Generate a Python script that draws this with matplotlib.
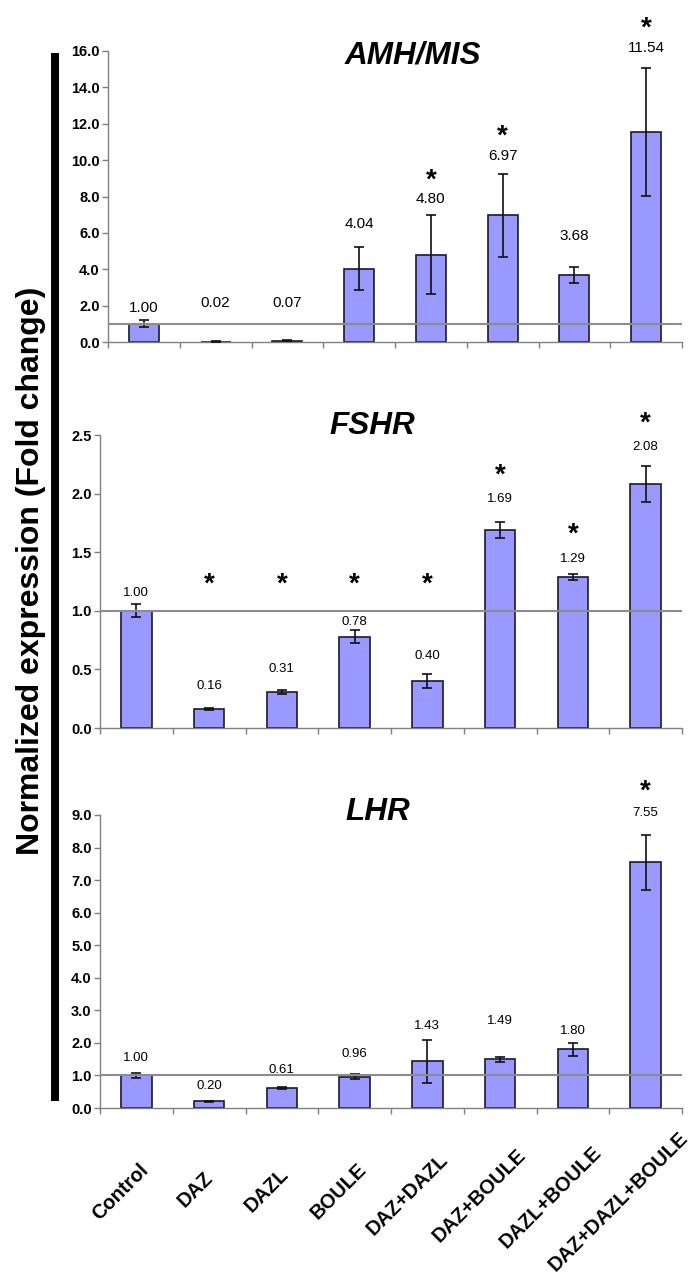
import matplotlib
matplotlib.use("Agg")
import matplotlib.pyplot as plt
from matplotlib.lines import Line2D
import numpy as np

plt.rcParams['font.family'] = ['Liberation Sans', 'DejaVu Sans']

# ---------------- data ----------------
categories = ['Control', 'DAZ', 'DAZL', 'BOULE', 'DAZ+DAZL', 'DAZ+BOULE',
              'DAZL+BOULE', 'DAZ+DAZL+BOULE']

amh_values = [1.00, 0.02, 0.07, 4.04, 4.80, 6.97, 3.68, 11.54]
amh_errors = [0.20, 0.01, 0.02, 1.19, 2.17, 2.29, 0.45, 3.53]
amh_sig = [False, False, False, False, True, True, False, True]

fshr_values = [1.00, 0.16, 0.31, 0.78, 0.40, 1.69, 1.29, 2.08]
fshr_errors = [0.055, 0.01, 0.017, 0.058, 0.06, 0.065, 0.025, 0.155]
fshr_sig = [False, True, True, True, True, True, True, True]

lhr_values = [1.00, 0.20, 0.61, 0.96, 1.43, 1.49, 1.80, 7.55]
lhr_errors = [0.07, 0.01, 0.04, 0.08, 0.66, 0.07, 0.19, 0.85]
lhr_sig = [False, False, False, False, False, False, False, True]

titles = ['AMH/MIS', 'FSHR', 'LHR']
y_max = [16, 2.5, 9]
y_step = [2, 0.5, 1]
reference_level = 1.0
ylabel = 'Normalized expression (Fold change)'

# ---------------- layout (pixels) ----------------
W, H = 696, 1279
PT = 0.72  # points per pixel at dpi 100

panel_px = [(108, 682, 51, 342), (100, 682, 435, 728), (100, 682, 815, 1108)]
title_px = [(413, 56), (372, 426), (378, 812)]
label_gap_px = [[12, 38, 37, 23, 16, 18, 31, 20],
                [11, 22, 21, 8, 18, 23, 15, 19],
                [15, 15, 17, 20, 14, 36, 12, 22]]
label_size = [11, 9.5, 9.5]
star_gap_px = [28, 33, 30]
star_floor = [0, 1.305, 0]
star_size = 20

bar_color = '#9999FF'
edge_color = '#1a1a2a'
axis_gray = '#808080'

fig = plt.figure(figsize=(W / 100, H / 100), dpi=100)
renderer = fig.canvas.get_renderer()

series = [(amh_values, amh_errors, amh_sig),
          (fshr_values, fshr_errors, fshr_sig),
          (lhr_values, lhr_errors, lhr_sig)]

x = np.arange(len(categories)) + 0.5

for p, (vals, errs, sig) in enumerate(series):
    l, r, t, b = panel_px[p]
    ax = fig.add_axes([l / W, 1 - b / H, (r - l) / W, (b - t) / H])
    ax.bar(x, vals, width=0.42, color=bar_color, edgecolor=edge_color,
           linewidth=1.2, zorder=2)
    ax.errorbar(x, vals, yerr=errs, fmt='none', ecolor='#111111',
                elinewidth=1.2, capsize=3.6, capthick=1.2, zorder=3)
    ax.axhline(reference_level, color='#8c8c8c', lw=1.5, zorder=4)
    ax.set_xlim(0, len(categories))
    ax.set_ylim(0, y_max[p])
    for s in ['top', 'right']:
        ax.spines[s].set_visible(False)
    for s in ['left', 'bottom']:
        ax.spines[s].set_color(axis_gray)
        ax.spines[s].set_linewidth(1.0)
    ax.set_xticks(np.arange(len(categories) + 1))
    ax.set_xticklabels([])
    yt = np.arange(0, y_max[p] + y_step[p] / 2, y_step[p])
    ax.set_yticks(yt)
    ax.set_yticklabels([f'{v:.1f}' for v in yt], fontsize=10.5,
                       fontweight='bold')
    ax.tick_params(axis='both', direction='out', color=axis_gray, length=4,
                   width=1, pad=2)

    ppu = (b - t) / y_max[p]  # pixels per data unit
    for i in range(len(categories)):
        top_px = (vals[i] + errs[i]) * ppu
        lab_px = top_px + label_gap_px[p][i]
        ax.annotate(f'{vals[i]:.2f}', xy=(x[i], 0), xycoords='data',
                    xytext=(0, lab_px * PT), textcoords='offset points',
                    ha='center', va='center', fontsize=label_size[p],
                    annotation_clip=False, zorder=5)
        if sig[i]:
            star_px = max(lab_px + star_gap_px[p], star_floor[p] * ppu)
            ax.annotate('*', xy=(x[i], 0), xycoords='data',
                        xytext=(0, star_px * PT - 0.58 * star_size),
                        textcoords='offset points', ha='center',
                        va='baseline', fontsize=star_size,
                        fontweight='bold', annotation_clip=False, zorder=5)

    tx, ty = title_px[p]
    fig.text(tx / W, 1 - ty / H, titles[p], ha='center', va='center',
             fontsize=22.7, fontweight='bold', fontstyle='italic')

    if p == 2:
        for i, cat in enumerate(categories):
            probe = fig.text(0, 0, cat, fontsize=14.4, fontweight='bold')
            L = probe.get_window_extent(renderer).width
            probe.remove()
            dx = -10 - 0.09 * L
            dy = -(78 + 0.08 * L)
            ax.annotate(cat, xy=(x[i], 0), xycoords=('data', 'axes fraction'),
                        xytext=(dx * PT, dy * PT), textcoords='offset points',
                        rotation=45, rotation_mode='anchor', ha='center',
                        va='center', fontsize=14.4, fontweight='bold',
                        annotation_clip=False)

# y label and black bar
fig.text(31 / W, 1 - 571 / H, ylabel, rotation=90, ha='center', va='center',
         fontsize=23, fontweight='bold')
fig.add_artist(Line2D([55 / W, 55 / W], [1 - 53 / H, 1 - 1101 / H],
                      transform=fig.transFigure, color='black',
                      lw=8 * PT, solid_capstyle='butt'))

fig.savefig('out.png', dpi=100)
